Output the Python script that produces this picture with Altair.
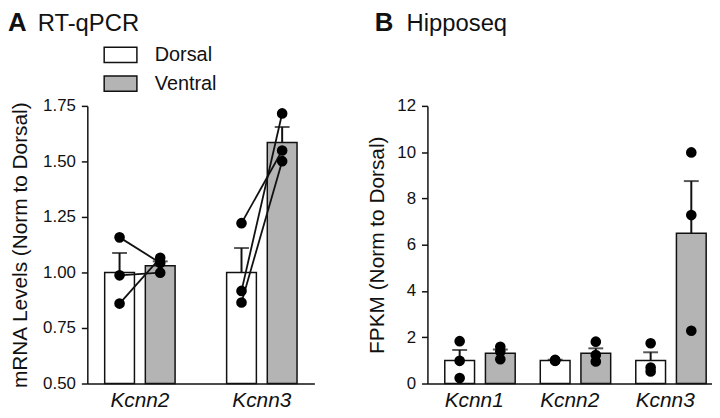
import altair as alt
import pandas as pd

FONT = "Liberation Sans"
GROUPS = ["Dorsal", "Ventral"]
FILLS = ["#ffffff", "#b4b4b4"]

# ---- Panel A: RT-qPCR ----
a_genes = ["Kcnn2", "Kcnn2", "Kcnn3", "Kcnn3"]
a_groups = ["Dorsal", "Ventral", "Dorsal", "Ventral"]
a_means = [1.00, 1.03, 1.00, 1.585]
a_sems = [0.088, 0.02, 0.11, 0.07]

a_pt_genes = ["Kcnn2"] * 6 + ["Kcnn3"] * 6
a_pt_groups = ["Dorsal", "Dorsal", "Dorsal", "Ventral", "Ventral", "Ventral"] * 2
a_pt_pair = [1, 2, 3, 1, 2, 3, 4, 5, 6, 4, 5, 6]
a_pt_values = [1.158, 0.987, 0.860, 1.043, 0.999, 1.066,
               1.222, 0.917, 0.865, 1.549, 1.716, 1.501]

# ---- Panel B: Hipposeq ----
b_genes = ["Kcnn1", "Kcnn1", "Kcnn2", "Kcnn2", "Kcnn3", "Kcnn3"]
b_groups = ["Dorsal", "Ventral"] * 3
b_means = [1.00, 1.31, 1.00, 1.31, 1.00, 6.50]
b_sems = [0.45, 0.16, 0.03, 0.21, 0.35, 2.25]

b_pt_genes = ["Kcnn1"] * 6 + ["Kcnn2"] * 6 + ["Kcnn3"] * 6
b_pt_groups = (["Dorsal"] * 3 + ["Ventral"] * 3) * 3
b_pt_values = [1.83, 0.98, 0.24, 1.59, 1.38, 1.05,
               1.02, 1.00, 0.98, 1.81, 1.23, 0.95,
               1.74, 0.69, 0.52, 9.99, 7.28, 2.28]


def panel(genes, groups, means, sems, pt_genes, pt_groups, pt_values,
          y_domain, y_ticks, y_fmt, y_title, base, width, height,
          x_pad_inner, x_pad_outer, o_pad_inner, o_pad_outer,
          letter, name, letter_dx, name_dx, legend_x, title_pad,
          pairs=None):
    bars = pd.DataFrame({"gene": genes, "group": groups, "mean": means, "sem": sems})
    bars["top"] = bars["mean"] + bars["sem"]
    bars["base"] = base
    pts = pd.DataFrame({"gene": pt_genes, "group": pt_groups, "value": pt_values})
    if pairs is not None:
        pts["pair"] = pairs

    x = alt.X("gene:N", title=None,
              scale=alt.Scale(paddingInner=x_pad_inner, paddingOuter=x_pad_outer),
              axis=alt.Axis(labelFont=FONT, labelFontSize=21, labelFontStyle="italic",
                            labelColor="#111", labelAngle=0, labelPadding=6,
                            ticks=False, domainColor="#111", domainWidth=1.5))
    xo = alt.XOffset("group:N",
                     scale=alt.Scale(domain=GROUPS, paddingInner=o_pad_inner,
                                     paddingOuter=o_pad_outer))
    yscale = alt.Scale(domain=y_domain, zero=False, nice=False)
    y_axis = alt.Axis(values=y_ticks, format=y_fmt, labelFont=FONT, labelFontSize=17,
                      labelColor="#111", labelPadding=6, tickSize=6, tickWidth=1.5,
                      tickColor="#111", domainColor="#111", domainWidth=1.5,
                      grid=False, titleFont=FONT, titleFontSize=21,
                      titleFontWeight="normal", titleColor="#111",
                      titlePadding=title_pad)

    fill = alt.Fill("group:N", title=None,
                    scale=alt.Scale(domain=GROUPS, range=FILLS),
                    legend=alt.Legend(orient="none", legendX=legend_x, legendY=-69,
                                      symbolType="M-1,-0.47H1V0.47H-1Z",
                                      symbolSize=1089, symbolStrokeColor="#111",
                                      symbolStrokeWidth=1.5, labelFont=FONT,
                                      labelFontSize=20, labelColor="#111",
                                      labelOffset=17, rowPadding=-4))

    bar = alt.Chart(bars).mark_bar(stroke="#111", strokeWidth=1.5).encode(
        x=x, xOffset=xo,
        y=alt.Y("mean:Q", scale=yscale, axis=y_axis, title=y_title),
        y2="base:Q",
        fill=fill,
    )
    err = alt.Chart(bars).mark_rule(color="#111", strokeWidth=2).encode(
        x=x, xOffset=xo, y=alt.Y("mean:Q", scale=yscale), y2="top:Q")
    cap = alt.Chart(bars).mark_tick(color="#111", thickness=2, size=15,
                                    orient="horizontal").encode(
        x=x, xOffset=xo, y=alt.Y("top:Q", scale=yscale))
    layers = [bar, err, cap]
    if pairs is not None:
        line = alt.Chart(pts).mark_line(color="#111", strokeWidth=1.8).encode(
            x=x, xOffset=xo, y=alt.Y("value:Q", scale=yscale),
            detail="pair:N", order=alt.Order("group:N"))
        layers.append(line)
    dots = alt.Chart(pts).mark_circle(color="#000", opacity=1, size=115).encode(
        x=x, xOffset=xo, y=alt.Y("value:Q", scale=yscale))
    layers.append(dots)

    lab = alt.Chart(pd.DataFrame({"t": [letter]})).mark_text(
        font=FONT, fontSize=26, fontWeight="bold", align="left", baseline="top",
        color="#111").encode(text="t:N", x=alt.value(letter_dx), y=alt.value(-97))
    nm = alt.Chart(pd.DataFrame({"t": [name]})).mark_text(
        font=FONT, fontSize=24, align="left", baseline="top",
        color="#111").encode(text="t:N", x=alt.value(name_dx), y=alt.value(-95))
    layers += [lab, nm]

    return alt.layer(*layers).properties(width=width, height=height)


panel_a = panel(a_genes, a_groups, a_means, a_sems, a_pt_genes, a_pt_groups, a_pt_values,
                [0.5, 1.75], [0.5, 0.75, 1.0, 1.25, 1.5, 1.75], ".2f",
                "mRNA Levels (Norm to Dorsal)", 0.5, 229, 280,
                0.138, 0.0, 0.268, 0.427, "A", "RT-qPCR", -80, -50, 16, 12,
                pairs=a_pt_pair)
panel_b = panel(b_genes, b_groups, b_means, b_sems, b_pt_genes, b_pt_groups, b_pt_values,
                [0, 12], [0, 2, 4, 6, 8, 10, 12], "d",
                "FPKM (Norm to Dorsal)", 0, 287, 280,
                0.02, 0.0, 0.185, 0.545, "B", "Hipposeq", -53, -21, 19, 9)

chart = alt.hconcat(panel_a, panel_b, spacing=53).properties(
    padding=0
).configure_view(stroke=None).configure_legend(padding=0)

chart.save("out.html", embed_options={"renderer": "svg", "actions": False})
